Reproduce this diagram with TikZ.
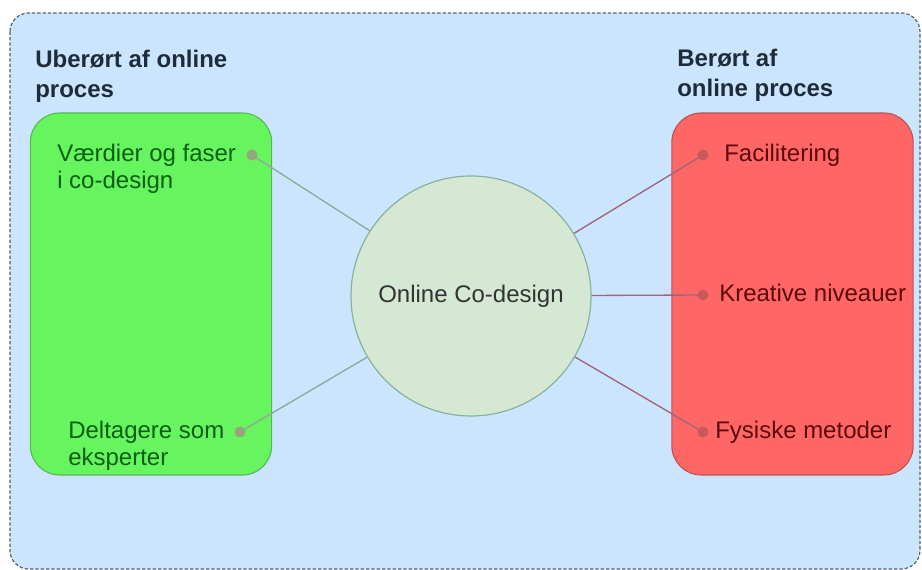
\documentclass[tikz,border=0pt]{standalone}
\usepackage{fontspec}
\setmainfont{Liberation Sans}
\definecolor{canvasbg}{HTML}{CCE5FF}
\definecolor{frameline}{HTML}{56606E}
\definecolor{greenfill}{HTML}{66F55E}
\definecolor{greenline}{HTML}{57B84F}
\definecolor{redfill}{HTML}{FF6666}
\definecolor{redline}{HTML}{B85450}
\definecolor{corefill}{HTML}{D5E8D4}
\definecolor{coreline}{HTML}{88B39A}
\definecolor{linkgreen}{HTML}{8FA89A}
\definecolor{linkred}{HTML}{A0647A}
\definecolor{dotgreen}{HTML}{98A57C}
\definecolor{dotred}{HTML}{C85A5A}
\definecolor{titletext}{HTML}{1E2B3A}
\definecolor{greentext}{HTML}{0B5E12}
\definecolor{redtext}{HTML}{5C0A0A}
\definecolor{coretext}{HTML}{333333}
\tikzset{
  % multi-line labels are placed by the baseline of their last line
  titlelabel/.style={anchor=base west, inner sep=0pt, align=left, text=titletext,
    font=\fontsize{18}{22.5}\selectfont\bfseries},
  greenlabel/.style={anchor=base west, inner sep=0pt, align=left, text=greentext,
    font=\fontsize{18}{20.25}\selectfont},
  redlabel/.style={anchor=base west, inner sep=0pt, align=left, text=redtext,
    font=\fontsize{18}{20.25}\selectfont},
  groupbox/.style={rectangle, rounded corners=22pt, line width=0.8pt,
    minimum width=181pt, minimum height=271.5pt, inner sep=0pt},
  greendot/.style={circle, fill=dotgreen, minimum size=8.25pt, inner sep=0pt},
  reddot/.style={circle, fill=dotred, minimum size=8.25pt, inner sep=0pt},
  greenlink/.style={draw=linkgreen, line width=1pt},
  redlink/.style={draw=linkred, line width=1pt},
}
\begin{document}
\begin{tikzpicture}[x=0.75pt, y=-0.75pt]
\useasboundingbox (0,0) rectangle (922,570);
\fill[white] (0,0) rectangle (922,570);

% outer dashed frame
\draw[fill=canvasbg, draw=frameline, line width=0.9pt, dash pattern=on 2.5pt off 1.5pt,
      rounded corners=14pt] (10,13) rectangle (920,569);

% group titles
\node[titlelabel] (tleft) at (35,98) {Uberørt af online\\proces};
\node[titlelabel] (tright) at (677,97) {Berørt af\\online proces};

% group boxes
\node[groupbox, fill=greenfill, draw=greenline] (gbox) at (151,294) {};
\node[groupbox, fill=redfill, draw=redline] (rbox) at (792.5,294) {};

% central circle
\node[circle, fill=corefill, draw=coreline, line width=0.9pt, minimum size=180pt,
      inner sep=0pt, text=coretext, font=\fontsize{18}{20}\selectfont]
      (core) at (471,296) {Online Co-design};

% item labels
\node[greenlabel] (lv) at (57,189) {Værdier og faser\\i co-design};
\node[greenlabel] (ld) at (68,465) {Deltagere som\\eksperter};
\node[redlabel] (lf) at (724,162) {Facilitering};
\node[redlabel] (lk) at (719,302) {Kreative niveauer};
\node[redlabel] (lm) at (715,439) {Fysiske metoder};

% connector end points
\coordinate (pv) at (252,155);
\coordinate (pd) at (240,432);
\coordinate (pf) at (703,155);
\coordinate (pk) at (703,295);
\coordinate (pm) at (703,432);

% connectors
\draw[greenlink] (pv) -- (core);
\draw[greenlink] (pd) -- (core);
\draw[redlink] (pf) -- (core);
\draw[redlink] (pk) -- (core);
\draw[redlink] (pm) -- (core);

% connection dots
\node[greendot] (dv) at (pv) {};
\node[greendot] (dd) at (pd) {};
\node[reddot] (df) at (pf) {};
\node[reddot] (dk) at (pk) {};
\node[reddot] (dm) at (pm) {};
\end{tikzpicture}
\end{document}
